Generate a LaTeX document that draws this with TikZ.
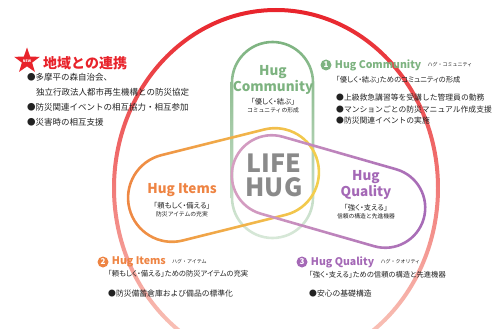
\documentclass[tikz,border=0pt]{standalone}
\usepackage{fontspec}
\setmainfont{Noto Sans CJK JP}
\usetikzlibrary{positioning, shapes.geometric}

\definecolor{hugred}{HTML}{E8232B}
\definecolor{hugredmid}{HTML}{F06A3C}
\definecolor{hugpale}{HTML}{FAD3C6}
\definecolor{huggreen}{HTML}{7DB380}
\definecolor{hugorange}{HTML}{EE8443}
\definecolor{hugyellow}{HTML}{F3D34E}
\definecolor{hugpurple}{HTML}{A468B6}
\definecolor{hugpink}{HTML}{D9A2C2}
\definecolor{huggray}{HTML}{8A8A8A}
\definecolor{hugtext}{HTML}{222222}

\begin{document}
\begin{tikzpicture}[
		x=1pt, y=-1pt, text=hugtext,
		title/.style={font=\fontsize{10.5}{11}\selectfont\bfseries, anchor=west, inner sep=0pt},
		kana/.style={font=\fontsize{5}{5}\selectfont, anchor=west, inner sep=0pt},
		line/.style={font=\fontsize{7.3}{7}\selectfont\addfontfeature{RawFeature=+palt}, anchor=west, inner sep=0pt},
		item/.style={font=\fontsize{7.8}{8}\selectfont, anchor=west, inner sep=0pt},
		local/.style={font=\fontsize{8.5}{9}\selectfont, anchor=west, inner sep=0pt},
		num/.style={circle, fill=#1, text=white, inner sep=0pt, minimum size=11pt, font=\fontsize{8}{8}\selectfont\bfseries},
		loopname/.style={font=\fontsize{13.5}{13}\selectfont\bfseries, align=center, inner sep=0pt},
		motto/.style={font=\fontsize{7.3}{7}\selectfont\addfontfeature{RawFeature=+palt}, inner sep=0pt},
		sub/.style={font=\fontsize{5.8}{6}\selectfont, inner sep=0pt}
		]
		\useasboundingbox (0,0) rectangle (498,329);
		
		% --- Outer ring ---
		\begin{scope}
			\clip (0,0) rectangle (498,329);
			\shade[top color=hugred, middle color=hugredmid, bottom color=hugpale, even odd rule]
				(276,188) ellipse [x radius=164, y radius=180]
				(276,188) ellipse [x radius=160, y radius=176];
		\end{scope}
		
		% --- Community loop ---
		\shade[top color=huggreen, bottom color=huggreen!30, even odd rule]
			{[rounded corners=41.8pt] (230.7,40.7) rectangle (314.3,239.3)}
			{[rounded corners=39.2pt] (233.3,43.3) rectangle (311.7,236.7)};
		
		% --- Items loop ---
		\begin{scope}[shift={(223.5,185)}, rotate=14]
			\shade[left color=hugorange, right color=hugyellow, even odd rule]
				{[rounded corners=45.3pt] (-98.3,-45.3) rectangle (98.3,45.3)}
				{[rounded corners=42.7pt] (-95.7,-42.7) rectangle (95.7,42.7)};
		\end{scope}
		
		% --- Quality loop ---
		\begin{scope}[shift={(328.5,191.5)}, rotate=-16]
			\shade[left color=hugpink, right color=hugpurple, even odd rule]
				{[rounded corners=41.3pt] (-100.3,-41.3) rectangle (100.3,41.3)}
				{[rounded corners=38.7pt] (-97.7,-38.7) rectangle (97.7,38.7)};
		\end{scope}
		
		% --- Loop labels ---
		\node[font=\fontsize{25}{24}\selectfont\bfseries, text=huggray, align=center, inner sep=0pt] (life) at (274,175) {LIFE\\HUG};
		
		\node[loopname, text=huggreen] (comm) at (273,80) {Hug\\Community};
		\node[motto, below=4pt of comm] (commA) {「優しく・結ぶ」};
		\node[sub, below=2pt of commA] (commB) {コミュニティの形成};
		
		\node[loopname, text=hugorange] (items) at (182,190) {Hug Items};
		\node[motto, below=5pt of items] (itemsA) {「頼もしく・備える」};
		\node[sub, below=2pt of itemsA] (itemsB) {防災アイテムの充実};
		
		\node[loopname, text=hugpurple] (qual) at (366,185) {Hug\\Quality};
		\node[motto, below=5pt of qual] (qualA) {「強く・支える」};
		\node[sub, below=2pt of qualA] (qualB) {信頼の構造と先進機器};
		
		% --- Local partnership ---
		\node[star, star points=5, star point ratio=2.5, fill=hugred, minimum size=27pt, inner sep=0pt] (star) at (27,61) {};
		\node[font=\fontsize{3.5}{4}\selectfont\bfseries, text=white, inner sep=0pt] (new) at (star.center) {NEW};
		\node[font=\fontsize{14}{14}\selectfont\bfseries, text=hugred, anchor=west, inner sep=0pt] (region) at (43,63) {地域との連携};
		\node[local] (r1) at (27,77) {●多摩平の森自治会、};
		\node[local] (r2) at (36,92) {独立行政法人都市再生機構との防災協定};
		\node[local] (r3) at (27,107) {●防災関連イベントの相互協力・相互参加};
		\node[local] (r4) at (27,122) {●災害時の相互支援};
		
		% --- 1 Community ---
		\node[num=huggreen] (n1) at (326,65) {1};
		\node[title, text=huggreen, right=3pt of n1] (t1) {Hug Community};
		\node[kana, right=6pt of t1] (k1) {ハグ・コミュニティ};
		\node[line] (c0) at (336,80) {「優しく・結ぶ」ためのコミュニティの形成};
		\node[item] (c1) at (336,98) {●上級救急講習等を受講した管理員の勤務};
		\node[item] (c2) at (336,110) {●マンションごとの防災マニュアル作成支援};
		\node[item] (c3) at (336,121) {●防災関連イベントの実施};
		
		% --- 2 Items ---
		\node[num=hugorange] (n2) at (103,262) {2};
		\node[title, text=hugorange, right=3pt of n2] (t2) {Hug Items};
		\node[kana, right=6pt of t2] (k2) {ハグ・アイテム};
		\node[line] (i0) at (108,274) {「頼もしく・備える」ための防災アイテムの充実};
		\node[item] (i1) at (108,294) {●防災備蓄倉庫および備品の標準化};
		
		% --- 3 Quality ---
		\node[num=hugpurple] (n3) at (302,262) {3};
		\node[title, text=hugpurple, right=3pt of n3] (t3) {Hug Quality};
		\node[kana, right=6pt of t3] (k3) {ハグ・クオリティ};
		\node[line] (q0) at (309,275) {「強く・支える」ための信頼の構造と先進機器};
		\node[item] (q1) at (309,294) {●安心の基礎構造};
		
	\end{tikzpicture}
\end{document}
